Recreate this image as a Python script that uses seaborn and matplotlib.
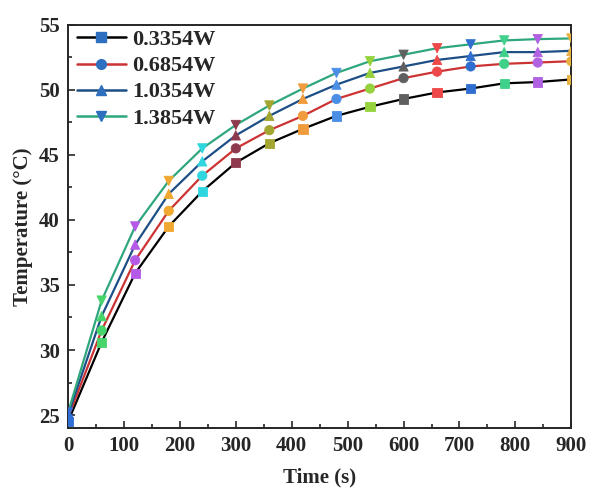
import numpy as np
import pandas as pd
import matplotlib
matplotlib.use("Agg")
import matplotlib.pyplot as plt
import seaborn as sns
from matplotlib.lines import Line2D
from matplotlib.ticker import MultipleLocator

# time points (s)
time_s = [0, 60, 120, 180, 240, 300, 360, 420, 480, 540, 600, 660, 720, 780, 840, 900]

# temperatures (degC)
t_03354 = [24.5, 30.6, 35.9, 39.5, 42.2, 44.4, 45.9, 47.0, 48.0, 48.7, 49.3, 49.8, 50.1, 50.5, 50.6, 50.8]
t_06854 = [24.8, 31.5, 36.9, 40.7, 43.4, 45.5, 46.9, 48.0, 49.3, 50.1, 50.9, 51.4, 51.8, 52.0, 52.1, 52.2]
t_10354 = [25.0, 32.6, 38.1, 42.0, 44.5, 46.5, 48.0, 49.3, 50.4, 51.3, 51.8, 52.3, 52.6, 52.9, 52.9, 53.0]
t_13854 = [25.2, 33.8, 39.5, 43.0, 45.5, 47.3, 48.8, 50.1, 51.3, 52.2, 52.7, 53.2, 53.5, 53.8, 53.9, 53.95]

labels = ["0.3354W", "0.6854W", "1.0354W", "1.3854W"]
series = [t_03354, t_06854, t_10354, t_13854]
line_colors = ["#000000", "#cc3333", "#1d4f86", "#2fa77c"]
markers = ["s", "o", "^", "v"]

# marker colours change from point to point (same order for every series)
point_colors = ["#2f6fd6", "#47d46a", "#b45ae6", "#f0a830", "#2fd6e0", "#8e3a4c",
                "#a2a630", "#f09c3c", "#4a8ee6", "#96d23e", "#606060", "#ee4848",
                "#2f6ed0", "#3fd08a", "#b062e2", "#e8b03c"]

df = pd.DataFrame({"time": time_s * 4,
                   "temp": sum(series, []),
                   "power": np.repeat(labels, len(time_s))})

sns.set_style("ticks")
plt.rcParams["font.family"] = ["Liberation Serif", "DejaVu Serif"]
plt.rcParams["font.weight"] = "bold"

fig = plt.figure(figsize=(5.92, 4.96), dpi=100)
ax = fig.add_axes([0.115, 0.137, 0.85, 0.813])

sns.lineplot(data=df, x="time", y="temp", hue="power", palette=line_colors,
             linewidth=1.6, legend=False, ax=ax, zorder=2)

for vals, m in zip(series, markers):
    ax.scatter(time_s, vals, c=point_colors, marker=m, s=45, zorder=3,
               edgecolors=point_colors, linewidths=0.6, clip_on=True)

ax.set_xlim(0, 900)
ax.set_ylim(24, 55)
ax.xaxis.set_major_locator(MultipleLocator(100))
ax.xaxis.set_minor_locator(MultipleLocator(50))
ax.yaxis.set_major_locator(MultipleLocator(5))
ax.yaxis.set_minor_locator(MultipleLocator(2.5))
ax.tick_params(which="both", direction="in", width=1.2, labelsize=15)
ax.tick_params(which="major", length=5, pad=6)
ax.tick_params(which="minor", length=3)
for sp in ax.spines.values():
    sp.set_linewidth(1.4)
    sp.set_visible(True)
for lab in ax.get_xticklabels() + ax.get_yticklabels():
    lab.set_fontweight("bold")

ax.set_xlabel("Time (s)", fontsize=15, fontweight="bold", labelpad=8)
ax.set_ylabel("Temperature (°C)", fontsize=15, fontweight="bold", labelpad=4)

handles = [Line2D([0], [0], color=c, marker=m, markersize=7, lw=1.8,
                  markerfacecolor="#2f6fc0", markeredgecolor="#2f6fc0")
           for c, m in zip(line_colors, markers)]
ax.legend(handles, labels, loc="upper left", bbox_to_anchor=(0.0, 1.01),
          frameon=False, handlelength=2.2, handletextpad=0.3, labelspacing=0.25,
          borderaxespad=0.0, prop={"weight": "bold", "size": 16})

fig.savefig("out.png", dpi=100)
